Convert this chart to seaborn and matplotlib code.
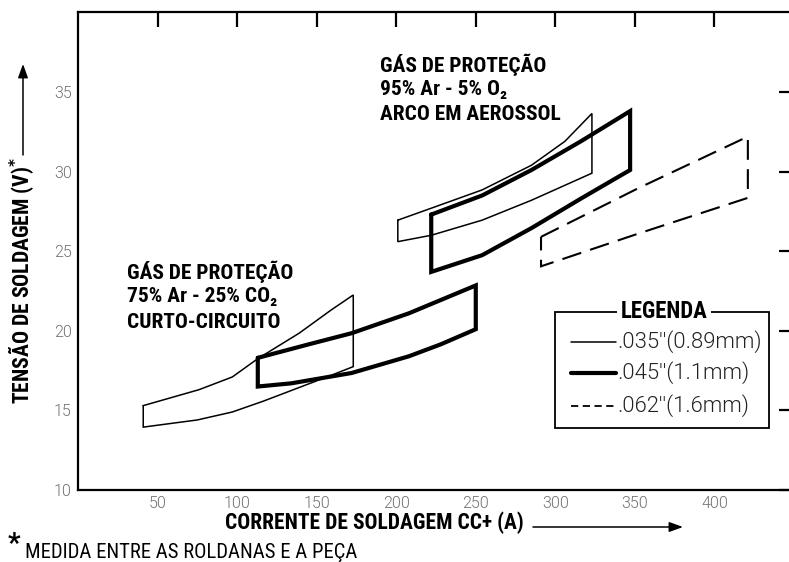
import matplotlib
matplotlib.use("Agg")
import matplotlib.pyplot as plt
from matplotlib.lines import Line2D
from matplotlib.patches import Rectangle, FancyArrowPatch
import pandas as pd
import seaborn as sns

# ---------------- data ----------------
# 75% Ar - 25% CO2, short circuit, .035" wire (thin)
co2_035_upper_x = [41, 76, 97, 113, 139, 159, 173]
co2_035_upper_y = [15.3, 16.3, 17.1, 18.25, 19.85, 21.3, 22.25]
co2_035_lower_x = [41, 75, 97, 117, 138, 159, 173]
co2_035_lower_y = [13.95, 14.4, 14.9, 15.6, 16.4, 17.2, 17.75]
# 75% Ar - 25% CO2, .045" wire (thick)
co2_045_upper_x = [113, 145, 172, 208, 250]
co2_045_upper_y = [18.3, 19.15, 19.85, 21.1, 22.85]
co2_045_lower_x = [113, 134, 172, 208, 228, 250]
co2_045_lower_y = [16.5, 16.7, 17.35, 18.4, 19.15, 20.1]
# 95% Ar - 5% O2, spray arc, .035" wire (thin)
aer_035_upper_x = [201, 222, 254, 285, 306, 323]
aer_035_upper_y = [26.95, 27.7, 28.85, 30.4, 31.9, 33.65]
aer_035_lower_x = [201, 222, 254, 285, 323]
aer_035_lower_y = [25.6, 26.0, 26.95, 28.2, 29.9]
# 95% Ar - 5% O2, .045" wire (thick)
aer_045_upper_x = [222, 254, 285, 316, 347]
aer_045_upper_y = [27.3, 28.5, 30.1, 31.9, 33.8]
aer_045_lower_x = [222, 254, 285, 316, 347]
aer_045_lower_y = [23.7, 24.75, 26.45, 28.3, 30.1]
# 95% Ar - 5% O2, .062" wire (dashed)
aer_062_upper_x = [291, 352, 421]
aer_062_upper_y = [25.9, 28.95, 32.2]
aer_062_lower_x = [291, 352, 421]
aer_062_lower_y = [24.05, 26.1, 28.35]

x_ticks = [50, 100, 150, 200, 250, 300, 350, 400]
y_ticks = [10, 15, 20, 25, 30, 35]

legend_labels = [".035''(0.89mm)", ".045''(1.1mm)", ".062''(1.6mm)"]
co2_text = ["GÁS DE PROTEÇÃO", "75% Ar - 25% CO₂", "CURTO-CIRCUITO"]
aer_text = ["GÁS DE PROTEÇÃO", "95% Ar - 5% O₂", "ARCO EM AEROSSOL"]
x_label = "CORRENTE DE SOLDAGEM CC+ (A)"
y_label = "TENSÃO DE SOLDAGEM (V)"
footnote = "MEDIDA ENTRE AS ROLDANAS E A PEÇA"


def outline(ux, uy, lx, ly):
    xs = list(ux) + list(lx)[::-1] + [ux[0]]
    ys = list(uy) + list(ly)[::-1] + [uy[0]]
    return pd.DataFrame({"corrente": xs, "tensao": ys})


shapes = [
    (outline(co2_035_upper_x, co2_035_upper_y, co2_035_lower_x, co2_035_lower_y), 1.1, "-"),
    (outline(co2_045_upper_x, co2_045_upper_y, co2_045_lower_x, co2_045_lower_y), 3.0, "-"),
    (outline(aer_035_upper_x, aer_035_upper_y, aer_035_lower_x, aer_035_lower_y), 1.1, "-"),
    (outline(aer_045_upper_x, aer_045_upper_y, aer_045_lower_x, aer_045_lower_y), 3.0, "-"),
    (outline(aer_062_upper_x, aer_062_upper_y, aer_062_lower_x, aer_062_lower_y), 1.5, (0, (9.5, 4.5))),
]

# ---------------- style ----------------
sns.set_theme(style="white")
plt.rcParams["font.family"] = ["Roboto", "DejaVu Sans"]

W, H = 789, 562
fig = plt.figure(figsize=(W / 100, H / 100), dpi=100)
fig.patch.set_facecolor("white")


def fx(px):
    return px / W


def fy(py):
    return 1 - py / H


ax = fig.add_axes([fx(78), 72 / H, 716 / W, 477.6 / H])
ax.set_facecolor("white")

for df, lw, ls in shapes:
    sns.lineplot(data=df, x="corrente", y="tensao", sort=False, estimator=None,
                 color="black", linewidth=lw, ax=ax)
    line = ax.get_lines()[-1]
    line.set_linestyle(ls)
    line.set_solid_joinstyle("miter")
    line.set_dash_joinstyle("miter")

ax.set_xlim(0, 450)
ax.set_ylim(10, 40)
ax.set_xticks(x_ticks)
ax.set_yticks(y_ticks)
ax.set_xticklabels([str(v) for v in x_ticks])
ax.set_yticklabels([str(v) for v in y_ticks])
ax.set_xlabel("")
ax.set_ylabel("")
for s in ax.spines.values():
    s.set_visible(True)
    s.set_color("black")
    s.set_linewidth(1.6)
ax.tick_params(axis="both", direction="in", length=11, width=1.6, color="black",
               top=True, right=True, labeltop=False, labelright=False,
               labelsize=11.5, labelcolor="#707070", pad=4.5)
for t in ax.get_xticklabels() + ax.get_yticklabels():
    t.set_fontfamily(["Roboto", "DejaVu Sans"])
    t.set_fontweight(300)

cond = ["Roboto Condensed", "DejaVu Sans"]
bold_kw = dict(family=cond, fontweight="bold", color="black")

for i, t in enumerate(co2_text):
    fig.text(fx(127), fy(272 + 25 * i), t, ha="left", va="center", fontsize=15.4, **bold_kw)
for i, t in enumerate(aer_text):
    fig.text(fx(380), fy(65 + 24.5 * i), t, ha="left", va="center", fontsize=15.4, **bold_kw)

# axis titles (asterisk as superscript of the y title)
fig.text(fx(22), fy(280), y_label + r"$^{\mathbf{*}}$", rotation=90, ha="center", va="center",
         fontsize=15.6, **bold_kw)
fig.text(fx(225), fy(523), x_label, ha="left", va="center", fontsize=15.5, **bold_kw)

arrow_kw = dict(arrowstyle="-|>,head_length=0.55,head_width=0.2", mutation_scale=15,
                color="black", lw=1.1, shrinkA=0, shrinkB=0)
fig.add_artist(FancyArrowPatch((fx(23), fy(155)), (fx(23), fy(64)),
                               transform=fig.transFigure, **arrow_kw))
fig.add_artist(FancyArrowPatch((fx(533), fy(527)), (fx(683), fy(527)),
                               transform=fig.transFigure, **arrow_kw))

# footnote
fig.text(fx(8), fy(544), "*", ha="left", va="center", fontsize=20, **bold_kw)
fig.text(fx(25), fy(552), footnote, ha="left", va="center", fontsize=14.9,
         family=cond, color="black")

# legend box
fig.add_artist(Rectangle((fx(555), fy(428)), (769 - 555) / W, (428 - 312) / H,
                         transform=fig.transFigure, fill=False, edgecolor="black", lw=1.3))
fig.text(fx(664), fy(312), "LEGENDA", ha="center", va="center", fontsize=16.5, **bold_kw,
         bbox=dict(boxstyle="square,pad=0.15", facecolor="white", edgecolor="none"))
leg_styles = [(1.1, "-"), (3.0, "-"), (1.3, (0, (4, 2.5)))]
leg_y = [342, 373, 406]
for (lw, ls), yy, lab in zip(leg_styles, leg_y, legend_labels):
    fig.add_artist(Line2D([fx(571), fx(616)], [fy(yy), fy(yy)], transform=fig.transFigure,
                          color="black", lw=lw, linestyle=ls))
    fig.text(fx(617), fy(yy), lab, ha="left", va="center", fontsize=15.8, color="#222222",
             family=["Roboto", "DejaVu Sans"], fontweight=300)

fig.savefig("out.png", dpi=100, facecolor="white")
